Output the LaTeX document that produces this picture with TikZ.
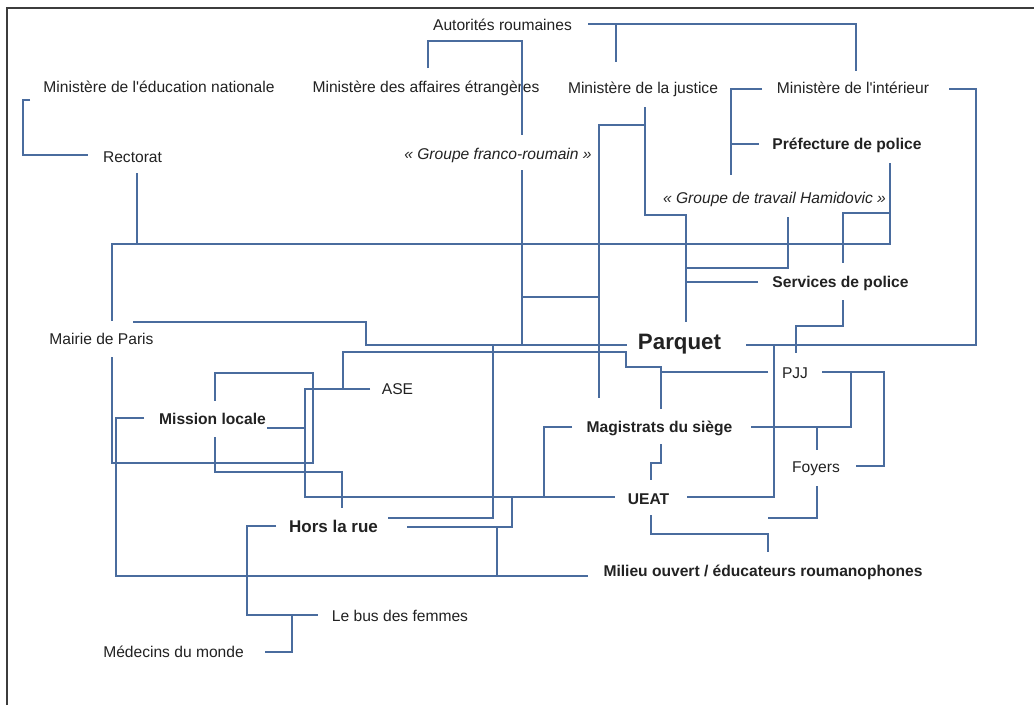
\documentclass[tikz,border=0pt]{standalone}
\usepackage{fontspec}
\setmainfont{Liberation Sans}
\definecolor{lnk}{RGB}{74,108,158}
\definecolor{txt}{RGB}{34,34,34}
\definecolor{frm}{RGB}{60,60,60}
\begin{document}
\begin{tikzpicture}[x=1pt,y=-1pt,
  lbl/.style={inner sep=0pt, anchor=base, text=txt, font=\fontsize{15.6}{18}\selectfont},
  lblb/.style={lbl, font=\fontsize{15.6}{18}\selectfont\bfseries},
  lbli/.style={lbl, font=\fontsize{15.6}{18}\selectfont\itshape},
  con/.style={draw=lnk, line width=1.35pt, line join=miter},
  frame/.style={draw=frm, line width=1.5pt}]
\useasboundingbox (0,0) rectangle (1034,705);
\fill[white] (0,0) rectangle (1034,705);
\draw[frame] (7,705) -- (7,8) -- (1034,8);

% labels
\node[lbl]  (aut)  at (502.5,30) {Autorités roumaines};
\node[lbl]  (men)  at (159,92)   {Ministère de l\textquotesingle éducation nationale};
\node[lbl]  (mae)  at (426,92)   {Ministère des affaires étrangères};
\node[lbl]  (mj)   at (643,93)   {Ministère de la justice};
\node[lbl]  (mi)   at (853,93)   {Ministère de l\textquotesingle intérieur};
\node[lbl]  (rect) at (132.5,162) {Rectorat};
\node[lbli] (gfr)  at (498,159)  {«~Groupe franco-roumain~»};
\node[lblb] (pref) at (847,149)  {Préfecture de police};
\node[lbli] (gth)  at (774.5,203) {«~Groupe de travail Hamidovic~»};
\node[lblb] (serv) at (840.5,287) {Services de police};
\node[lbl]  (mair) at (101.5,344) {Mairie de Paris};
\node[lblb, font=\fontsize{22.3}{26}\selectfont\bfseries] (parq) at (679.5,349) {Parquet};
\node[lbl]  (ase)  at (397.5,394) {ASE};
\node[lbl]  (pjj)  at (795,378)  {PJJ};
\node[lblb] (mloc) at (212.5,424) {Mission locale};
\node[lblb] (mag)  at (659.5,432) {Magistrats du siège};
\node[lbl]  (foy)  at (816,472)  {Foyers};
\node[lblb] (ueat) at (648.5,504) {UEAT};
\node[lblb, font=\fontsize{17}{20}\selectfont\bfseries] (hlr) at (333.5,532) {Hors la rue};
\node[lblb] (mil)  at (763,576)  {Milieu ouvert / éducateurs roumanophones};
\node[lbl]  (bus)  at (400,621)  {Le bus des femmes};
\node[lbl]  (med)  at (173.5,657) {Médecins du monde};

% connectors
\draw[con] (30,100) -- (23,100) -- (23,155) -- (88,155);
\draw[con] (588,24) -- (856,24) -- (856,71);
\draw[con] (616,24) -- (616,62);
\draw[con] (428,68) -- (428,41) -- (522,41) -- (522,135);
\draw[con] (522,170) -- (522,345);
\draw[con] (522,297) -- (598,297);
\draw[con] (645,107) -- (645,215) -- (686,215) -- (686,322);
\draw[con] (645,125) -- (599,125) -- (599,398);
\draw[con] (788,217) -- (788,268) -- (686,268);
\draw[con] (758,282) -- (686,282);
\draw[con] (762,89) -- (731,89) -- (731,175);
\draw[con] (731,144) -- (759,144);
\draw[con] (949,89) -- (976,89) -- (976,345) -- (746,345);
\draw[con] (890,163) -- (890,244) -- (112,244) -- (112,321);
\draw[con] (137,173) -- (137,244);
\draw[con] (890,213) -- (843,213) -- (843,263);
\draw[con] (843,300) -- (843,326) -- (796,326) -- (796,353);
\draw[con] (774,345) -- (774,497) -- (687,497);
\draw[con] (133,322) -- (366,322) -- (366,345) -- (627,345);
\draw[con] (112,357) -- (112,463) -- (313,463) -- (313,373) -- (215,373) -- (215,401);
\draw[con] (144,418) -- (116,418) -- (116,576) -- (588,576);
\draw[con] (215,437) -- (215,472) -- (342,472) -- (342,508);
\draw[con] (267,428) -- (305,428);
\draw[con] (370,389) -- (305,389) -- (305,497) -- (615,497);
\draw[con] (343,389) -- (343,352) -- (626,352) -- (626,367) -- (661,367) -- (661,409);
\draw[con] (768,372) -- (661,372);
\draw[con] (388,518) -- (493,518) -- (493,345);
\draw[con] (407,527) -- (512,527) -- (512,497);
\draw[con] (497,527) -- (497,576);
\draw[con] (572,427) -- (544,427) -- (544,497);
\draw[con] (661,444) -- (661,463) -- (651,463) -- (651,480);
\draw[con] (651,515) -- (651,534) -- (768,534) -- (768,552);
\draw[con] (817,486) -- (817,518) -- (768,518);
\draw[con] (822,372) -- (851,372) -- (851,427) -- (751,427);
\draw[con] (817,427) -- (817,450);
\draw[con] (851,372) -- (884,372) -- (884,466) -- (856,466);
\draw[con] (276,526) -- (247,526) -- (247,615) -- (318,615);
\draw[con] (265,652) -- (292,652) -- (292,615);
\end{tikzpicture}
\end{document}
